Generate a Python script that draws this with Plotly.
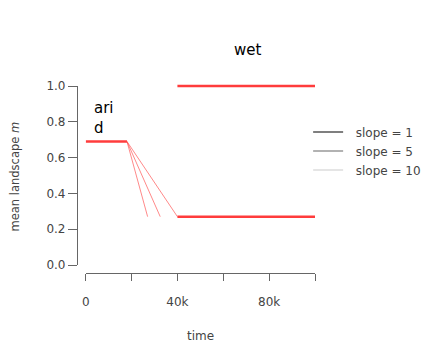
import plotly.graph_objects as go

# ---- data ----
arid_time = [0, 18000]
arid_value = [0.69, 0.69]
trans_start = 18000
trans_end_times = [27000, 32500, 40000]
trans_start_value = 0.69
trans_end_value = 0.27
low_time = [40000, 100000]
low_value = [0.27, 0.27]
wet_time = [40000, 100000]
wet_value = [1.0, 1.0]
legend_names = ["slope = 1", "slope = 5", "slope = 10"]
legend_colors = ["#555555", "#999999", "#dddddd"]
x_tickvals = [0, 20000, 40000, 60000, 80000, 100000]
x_ticktext = ["0", "", "40k", "", "80k", ""]
y_tickvals = [0, 0.2, 0.4, 0.6, 0.8, 1.0]

RED = "rgb(255,60,60)"
FONT = "DejaVu Sans, Liberation Sans, Arial, sans-serif"
W, H = 425, 345

# pixel layout of the axes (reference)
y_top_px, y_bot_px = 86, 265
x_left_px, x_right_px = 85.7, 315
yaxis_x_px = 77
xaxis_y_px = 272.7
pad_px = 6
pad_val = pad_px / (y_bot_px - y_top_px)

fig = go.Figure()
fig.add_trace(go.Scatter(x=arid_time, y=arid_value, mode="lines",
                         line=dict(color=RED, width=2.5), showlegend=False))
for t_end in trans_end_times:
    fig.add_trace(go.Scatter(x=[trans_start, t_end], y=[trans_start_value, trans_end_value],
                             mode="lines", line=dict(color="rgba(255,70,70,0.8)", width=0.8),
                             showlegend=False))
fig.add_trace(go.Scatter(x=low_time, y=low_value, mode="lines",
                         line=dict(color=RED, width=2.5), showlegend=False))
fig.add_trace(go.Scatter(x=wet_time, y=wet_value, mode="lines",
                         line=dict(color=RED, width=2.5), showlegend=False))
for name, col in zip(legend_names, legend_colors):
    fig.add_trace(go.Scatter(x=[None], y=[None], mode="lines", name="\u00a0\u00a0" + name,
                             line=dict(color=col, width=1.5)))
# dummy trace so the visible y axis is drawn
fig.add_trace(go.Scatter(x=[None], y=[None], yaxis="y2", showlegend=False, hoverinfo="skip"))

fig.update_layout(
    width=W, height=H,
    margin=dict(l=0, r=0, t=0, b=0, autoexpand=False),
    paper_bgcolor="white", plot_bgcolor="rgba(0,0,0,0)",
    font=dict(family=FONT, size=12, color="#444444"),
    xaxis=dict(domain=[x_left_px / W, x_right_px / W], range=[0, 100000],
               anchor="free", position=(H - xaxis_y_px) / H, automargin=False,
               showline=True, linecolor="#666666", linewidth=1.2, showgrid=False, zeroline=False,
               ticks="outside", ticklen=7, tickcolor="#666666", tickwidth=1.2,
               tickvals=x_tickvals, ticktext=x_ticktext, ticklabelstandoff=11,
               tickfont=dict(size=12, color="#444444")),
    yaxis=dict(domain=[(H - y_bot_px - pad_px) / H, (H - y_top_px + pad_px) / H],
               range=[-pad_val, 1 + pad_val], visible=False, automargin=False),
    yaxis2=dict(domain=[(H - y_bot_px) / H, (H - y_top_px) / H], range=[0, 1],
                anchor="free", position=yaxis_x_px / W, automargin=False,
                showline=True, linecolor="#666666", linewidth=1.2, showgrid=False, zeroline=False,
                ticks="outside", ticklen=9, tickcolor="#666666", tickwidth=1.2,
                tickvals=y_tickvals, tickformat=".1f",
                tickfont=dict(size=12, color="#444444")),
    legend=dict(x=0.725, y=0.562, xanchor="left", yanchor="middle",
                font=dict(size=12, color="#444444"), bgcolor="rgba(0,0,0,0)",
                tracegroupgap=0),
    annotations=[
        dict(x=247 / W, y=(H - 50) / H, xref="paper", yref="paper", text="wet",
             showarrow=False, xanchor="center", yanchor="middle",
             font=dict(size=15, color="black")),
        dict(x=2800, y=0.824, xref="x", yref="y", text="ari<br>d", showarrow=False,
             xanchor="left", align="left", font=dict(size=15, color="black")),
        dict(x=200 / W, y=(H - 336) / H, xref="paper", yref="paper", text="time",
             showarrow=False, xanchor="center", yanchor="middle",
             font=dict(size=12, color="#444444")),
        dict(x=14 / W, y=(H - 176.5) / H, xref="paper", yref="paper",
             text="mean landscape <i>m</i>", textangle=-90, showarrow=False,
             xanchor="center", yanchor="middle",
             font=dict(size=11.5, color="#444444")),
    ],
)

fig.write_html("out.html")
